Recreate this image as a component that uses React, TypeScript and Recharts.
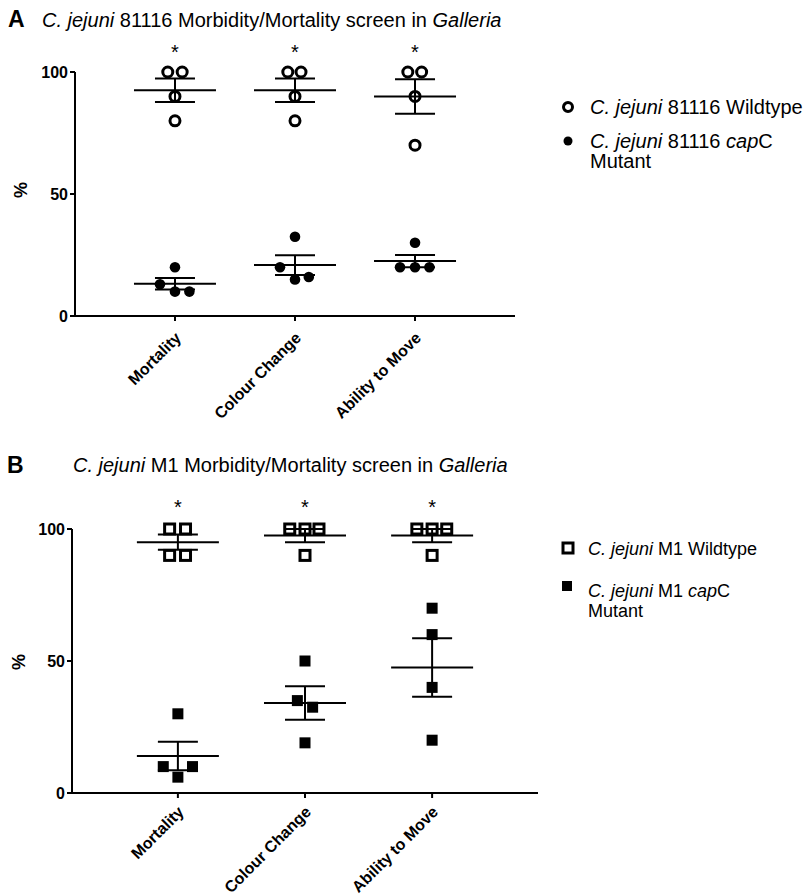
import React from "react";
import { ScatterChart, Scatter, XAxis, YAxis, ErrorBar, ReferenceDot } from "recharts";

const FONT = "'Liberation Sans', Arial, sans-serif";

const categories = ["Mortality", "Colour Change", "Ability to Move"];
const yTicks = [0, 50, 100];
const sigMarks = ["*", "*", "*"];
const starLevel = 110;

// panel A: C. jejuni 81116, % per group of larvae (4 replicates per condition)
const wt81116 = [
  [100, 100, 90, 80],
  [100, 100, 90, 80],
  [100, 100, 90, 70],
];
const wt81116Jitter = [
  [-0.06, 0.06, 0, 0],
  [-0.06, 0.05, 0, 0],
  [-0.06, 0.055, 0, 0],
];
const cap81116 = [
  [20, 13, 10, 10],
  [32.5, 20, 15, 16],
  [30, 20, 20, 20],
];
const cap81116Jitter = [
  [0, -0.125, 0, 0.12],
  [0, -0.125, 0, 0.115],
  [0, -0.125, 0, 0.12],
];

// panel B: C. jejuni M1
const wtM1 = [
  [100, 100, 90, 90],
  [100, 100, 100, 90],
  [100, 100, 100, 90],
];
const wtM1Jitter = [
  [-0.065, 0.06, -0.065, 0.06],
  [-0.12, 0, 0.11, 0],
  [-0.12, 0, 0.115, 0],
];
const capM1 = [
  [30, 10, 10, 6],
  [50, 35, 32.5, 19],
  [70, 60, 40, 20],
];
const capM1Jitter = [
  [0, -0.115, 0.115, 0],
  [0, -0.06, 0.06, 0],
  [0, 0, 0, 0],
];

const toPoints = (vals: number[][], jit: number[][]) =>
  vals.flatMap((g, i) => g.map((y, j) => ({ x: i + 1 + jit[i][j], y })));

// mean +/- SEM per condition
const toMeans = (vals: number[][]) =>
  vals.map((g, i) => {
    const n = g.length;
    const m = g.reduce((a, b) => a + b, 0) / n;
    const sd = Math.sqrt(g.reduce((a, b) => a + (b - m) * (b - m), 0) / (n - 1));
    return { x: i + 1, y: m, err: sd / Math.sqrt(n) };
  });

const XTick = (props: any) => {
  const { x, y, payload, drop } = props;
  return (
    <g transform={`translate(${x + 3},${y + drop})`}>
      <text
        textAnchor="end"
        transform="rotate(-45)"
        dy="0.35em"
        fontSize={16}
        fontWeight="bold"
        fontFamily={FONT}
        fill="#000"
      >
        {categories[Math.round(payload.value) - 1]}
      </text>
    </g>
  );
};

const hollowCircle = (p: any) => (
  <circle cx={p.cx} cy={p.cy} r={5} fill="none" stroke="#000" strokeWidth={3} />
);
const filledCircle = (p: any) => <circle cx={p.cx} cy={p.cy} r={5.3} fill="#000" />;
const hollowSquare = (p: any) => (
  <rect x={p.cx - 5} y={p.cy - 5} width={10} height={10} fill="none" stroke="#000" strokeWidth={3} />
);
const filledSquare = (p: any) => (
  <rect x={p.cx - 5.5} y={p.cy - 5.5} width={11} height={11} fill="#000" />
);

interface ChartProps {
  wt: number[][];
  wtJit: number[][];
  mut: number[][];
  mutJit: number[][];
  square?: boolean;
  width: number;
  height: number;
  tickDrop: number;
  margin: { top: number; right: number; bottom: number; left: number };
}

const ScreenChart: React.FC<ChartProps> = ({ wt, wtJit, mut, mutJit, square, width, height, tickDrop, margin }) => {
  const meanLine = (p: any) => (
    <line x1={p.cx - 41} x2={p.cx + 41} y1={p.cy} y2={p.cy} stroke="#000" strokeWidth={2} />
  );
  const star = (s: string) => (p: any) => (
    <text x={p.cx} y={p.cy} dy="0.55em" textAnchor="middle" fontSize={20} fontFamily={FONT} fill="#000">
      {s}
    </text>
  );
  return (
    <ScatterChart width={width} height={height} margin={margin} style={{ overflow: "visible" }}>
      <XAxis
        type="number"
        dataKey="x"
        domain={[0.167, 3.833]}
        ticks={[1, 2, 3]}
        interval={0}
        height={80}
        tick={<XTick drop={tickDrop} />}
        tickSize={5}
        axisLine={{ stroke: "#000", strokeWidth: 2 }}
        tickLine={{ stroke: "#000", strokeWidth: 2 }}
      />
      <YAxis
        type="number"
        dataKey="y"
        domain={[0, 100]}
        ticks={yTicks}
        width={55}
        tickSize={5}
        tick={{ fontSize: 16, fontWeight: "bold", fill: "#000", fontFamily: FONT }}
        axisLine={{ stroke: "#000", strokeWidth: 2 }}
        tickLine={{ stroke: "#000", strokeWidth: 2 }}
      />
      <Scatter
        data={toPoints(wt, wtJit)}
        shape={square ? hollowSquare : hollowCircle}
        isAnimationActive={false}
      />
      <Scatter
        data={toPoints(mut, mutJit)}
        shape={square ? filledSquare : filledCircle}
        isAnimationActive={false}
      />
      <Scatter data={toMeans(wt)} shape={meanLine} isAnimationActive={false}>
        <ErrorBar dataKey="err" direction="y" width={20} stroke="#000" strokeWidth={2} />
      </Scatter>
      <Scatter data={toMeans(mut)} shape={meanLine} isAnimationActive={false}>
        <ErrorBar dataKey="err" direction="y" width={20} stroke="#000" strokeWidth={2} />
      </Scatter>
      {sigMarks.map((s, i) => (
        <ReferenceDot key={i} x={i + 1} y={starLevel} r={0} ifOverflow="visible" shape={star(s)} />
      ))}
    </ScatterChart>
  );
};

const abs = (left: number, top: number): React.CSSProperties => ({
  position: "absolute",
  left,
  top,
  fontFamily: FONT,
  color: "#000",
  whiteSpace: "nowrap",
});

const Icon: React.FC<{ kind: string; cx: number; cy: number }> = ({ kind, cx, cy }) => (
  <svg width={16} height={16} style={{ position: "absolute", left: cx - 8, top: cy - 8 }}>
    {kind === "hc" && <circle cx={8} cy={8} r={4.5} fill="none" stroke="#000" strokeWidth={3} />}
    {kind === "fc" && <circle cx={8} cy={8} r={4.5} fill="#000" />}
    {kind === "hs" && <rect x={3} y={3} width={10} height={10} fill="none" stroke="#000" strokeWidth={3} />}
    {kind === "fs" && <rect x={3} y={3} width={10} height={10} fill="#000" />}
  </svg>
);

const App: React.FC = () => {
  return (
    <div style={{ position: "absolute", left: 0, top: 0, width: 810, height: 895, background: "#fff", overflow: "hidden" }}>
      {/* panel A */}
      <div style={{ position: "absolute", left: 0, top: 0 }}>
        <ScreenChart
          wt={wt81116}
          wtJit={wt81116Jitter}
          mut={cap81116}
          mutJit={cap81116Jitter}
          width={560}
          height={440}
          tickDrop={12}
          margin={{ top: 72, right: 45, bottom: 44, left: 20 }}
        />
      </div>
      <div style={{ ...abs(8, 8), fontSize: 23, fontWeight: "bold", lineHeight: "23px" }}>A</div>
      <div style={{ ...abs(42, 10), fontSize: 20, lineHeight: "20px" }}>
        <i>C. jejuni</i> 81116 Morbidity/Mortality screen in <i>Galleria</i>
      </div>
      <div style={{ ...abs(13, 181), fontSize: 18, fontWeight: "bold", lineHeight: "18px", transform: "rotate(-90deg)" }}>%</div>
      <Icon kind="hc" cx={568} cy={107} />
      <div style={{ ...abs(590, 97), fontSize: 20, lineHeight: "20px" }}>
        <i>C. jejuni</i> 81116 Wildtype
      </div>
      <Icon kind="fc" cx={568} cy={141} />
      <div style={{ ...abs(590, 131), fontSize: 20, lineHeight: "20px" }}>
        <i>C. jejuni</i> 81116 <i>cap</i>C
        <br />
        Mutant
      </div>

      {/* panel B */}
      <div style={{ position: "absolute", left: 0, top: 450 }}>
        <ScreenChart
          wt={wtM1}
          wtJit={wtM1Jitter}
          mut={capM1}
          mutJit={capM1Jitter}
          square
          width={560}
          height={445}
          tickDrop={9}
          margin={{ top: 79, right: 22, bottom: 22, left: 17 }}
        />
      </div>
      <div style={{ ...abs(7, 454), fontSize: 23, fontWeight: "bold", lineHeight: "23px" }}>B</div>
      <div style={{ ...abs(73, 455), fontSize: 20, lineHeight: "20px" }}>
        <i>C. jejuni</i> M1 Morbidity/Mortality screen in <i>Galleria</i>
      </div>
      <div style={{ ...abs(11, 653), fontSize: 18, fontWeight: "bold", lineHeight: "18px", transform: "rotate(-90deg)" }}>%</div>
      <Icon kind="hs" cx={568} cy={548} />
      <div style={{ ...abs(588, 539), fontSize: 18, lineHeight: "20px" }}>
        <i>C. jejuni</i> M1 Wildtype
      </div>
      <Icon kind="fs" cx={567} cy={586} />
      <div style={{ ...abs(588, 581), fontSize: 18, lineHeight: "20px" }}>
        <i>C. jejuni</i> M1 <i>cap</i>C
        <br />
        Mutant
      </div>
    </div>
  );
};

export default App;
